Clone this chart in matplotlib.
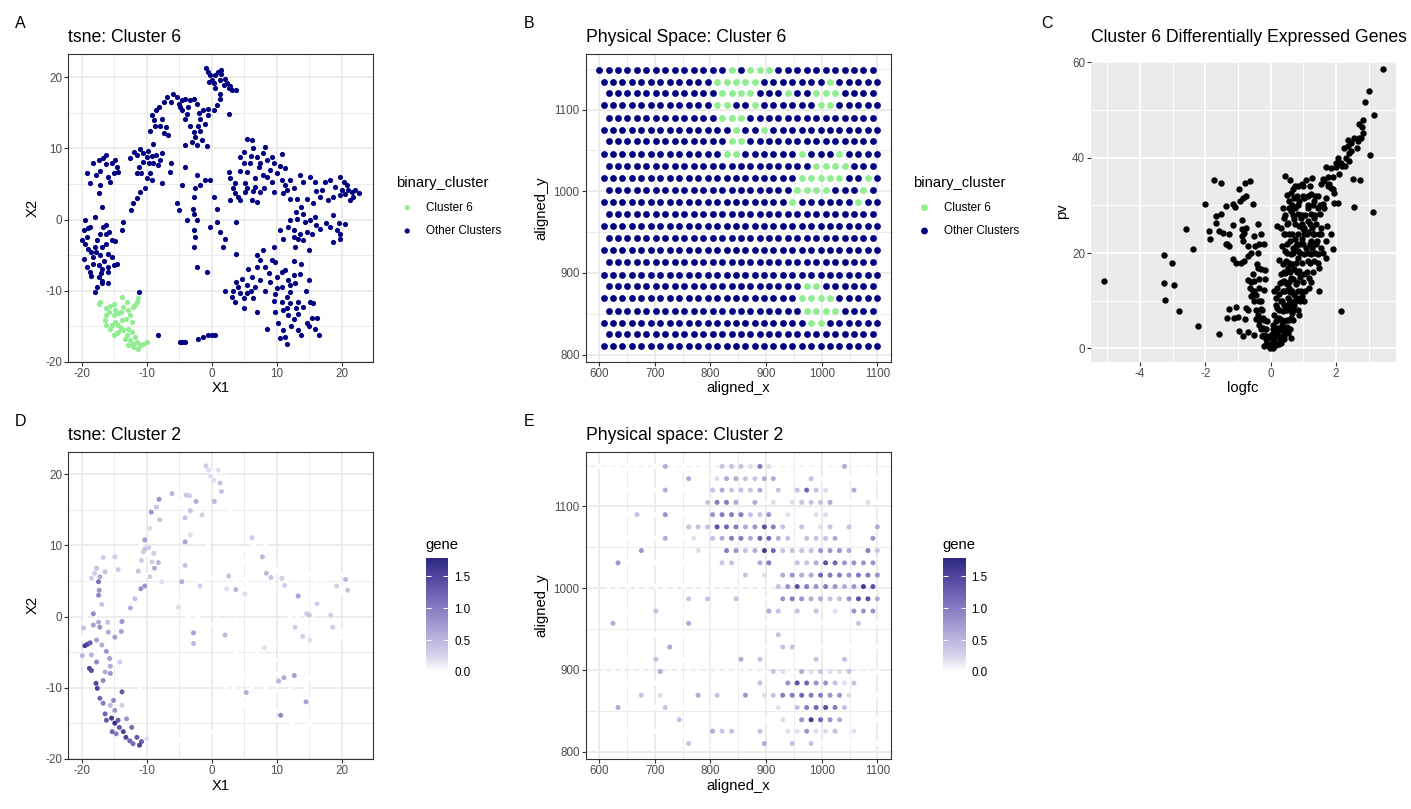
import numpy as np
import matplotlib
matplotlib.use("Agg")
from matplotlib import pyplot as plt
from matplotlib.colors import LinearSegmentedColormap, Normalize
from matplotlib.cm import ScalarMappable

plt.rcParams['font.family'] = ['Liberation Sans', 'DejaVu Sans']
plt.rcParams['axes.unicode_minus'] = False

# ---------------- tsne coordinates (panels A and D) ----------------
other_x = [-0.9, -0.5, -0.3, 0.0, -0.4, 0.3, 0.5, 1.0, 1.4, 1.5, 1.3, 1.9, 2.3, 2.6, 3.1, 3.8, 2.8, 1.3, 1.3, 0.8, 2.6, 0.3, -0.5,
           -5.9, -5.4, -4.6, -4.1, -3.3, -2.8, -2.3, -6.9, -7.4, -8.1, -8.5, -9.2, -7.7, -8.0, -8.7, -9.5, -7.4, -6.7,
           -4.6, -4.1, -3.3, -2.8, -2.05, -1.8, -1.3, -1.5, -2.3, -4.1, -0.8, -0.5, -1.0, -4.9, -3.8, -2.6, -9.0,
           -11.0, -10.5, -10.0, -9.2, -8.5, -7.7, -10.5, -9.7, -9.0, -8.2, -11.5, -10.8, -10.0, -9.2, -11.5, -12.6,
           -6.2, -6.4, -7.7, -10.3, -11.0, -11.5, -12.1, -12.4, -13.6, -13.8,
           -4.1, -2.3, -1.8, -2.6, -2.8, -4.6, -5.4, -5.1, -2.9, -2.8, -2.3, -3.8, -2.8, -2.6, -2.8, -1.0, -0.3, 0.8,
           0.8, -0.3, 1.3, 2.05, 1.8, 3.8, 3.8, -2.3, -0.8,
           -19.2, -18.7, -18.2, -17.4, -17.2, -16.7, -16.2, -16.2, -15.4, -14.9, -14.6, -15.1, -14.4, -15.6, -17.2,
           -17.4, -16.9, -17.9, -19.7, -20.0, -19.2, -18.7, -17.7, -17.2, -16.7, -16.2, -16.9, -16.2, -15.4, -14.9,
           -16.0, -17.2, -18.2, -19.0, -19.7, -19.2, -18.2, -17.4, -18.7, -16.9, -15.9, -15.1, -14.6, -15.9, -17.4,
           -16.9, -17.7, -17.9, -15.9, -16.9, -15.4, -19.5, -18.0, -16.5, -18.5, -17.8, -16.0, -19.0, -17.0,
           5.4, 6.2, 6.4, 8.2, 7.9, 9.2, 10.8, 4.4, 4.9, 5.9, 6.9, 7.2, 8.5, 9.5, 10.5, 11.3, 4.4, 5.4, 7.9, 8.5,
           6.7, 2.6, 2.8, 3.6, 5.1, 6.7, 9.2, 10.8, 11.3, 0.3, 2.8, 3.6, 4.1, 4.4, 5.1, 6.2, 6.9, 6.4, 7.4, 9.5, 11.0,
           13.6, 15.1, 15.9, 14.1, 12.6, 11.5, 12.1, 13.1, 14.6, 13.8, 15.6, 16.7, 17.4, 18.2, 19.0, 19.7, 20.3,
           20.8, 21.0, 21.5, 22.1, 22.7, 20.5, 21.3, 18.7, 17.9, 19.7, 18.7, 20.5, 18.2, 19.2, 19.7, 19.7, 18.7,
           16.7, 15.9, 15.1, 14.4, 13.1, 12.1, 10.5, 12.6, 13.6, 14.6, 15.4, 12.6, 13.3, 14.1, 12.8, 14.9, 11.0, 11.8,
           7.9, 9.5, 7.4, 9.2, 8.2, 5.6, 6.9, 6.2, 4.6, 3.8, 5.4, 6.7, 3.3, 2.05, 3.1, 4.4, 5.4, 3.6, 4.9, 6.9,
           6.4, 8.2, 9.0, 10.0, 10.8, 11.3, 10.0, 10.8, 12.1, 12.8, 12.6, 12.6, 13.8, 13.6, 14.9, 9.5, 10.8, 11.5,
           12.1, 13.3, 14.1, 15.1, 15.6, 9.7, 11.0, 11.8, 12.6, 13.3, 14.6, 15.4, 16.2, 15.9, 13.3, 13.8, 16.5,
           11.0, 11.3, 11.5, 10.5, 8.5,
           -8.2, -11.2, -4.9, -4.5, -4.1, -2.05, -1.3, -0.5, 0.0, 0.5,
           4.0, 5.0, 6.0, 7.5, 8.8, 9.8, 11.8, 12.0, 13.0, 14.5, 15.0, 12.2, 10.2, 11.5, 7.0, 9.8,
           5.0, 6.0, 7.5, 9.0, 10.0, 5.5, 8.0, 3.2, 12.0, 13.0, 14.0, 16.0, 17.5, 19.5, 21.8, 20.0, 17.0, 16.0,
           -6.3, -5.0, -3.6, -2.0, -8.8, -7.0, -1.8, -3.0, 0.5, 2.0,
           -9.8, -11.2, -9.5, -8.0, -12.0,
           -19.5, -18.5, -16.2, -17.8, -15.8]
other_y = [21.3, 20.8, 20.3, 19.7, 19.4, 19.2, 18.5, 20.8, 21.0, 20.5, 19.6, 18.9, 19.2, 18.5, 18.3, 18.3, 18.8, 17.7, 17.0, 16.1, 14.8, 15.4, 15.6,
           17.7, 17.3, 16.8, 17.0, 16.8, 17.0, 16.3, 17.3, 16.6, 15.9, 15.4, 14.7, 14.2, 13.1, 13.1, 12.5, 12.2, 11.9,
           15.4, 14.2, 13.1, 12.3, 13.1, 14.2, 15.4, 11.2, 10.5, 10.5, 10.3, 14.7, 13.5, 15.9, 14.9, 11.6, 10.7,
           9.9, 9.3, 8.8, 8.9, 9.1, 9.4, 8.1, 7.9, 7.9, 7.7, 6.5, 6.6, 5.8, 5.5, 9.1, 8.6,
           7.9, 6.7, 5.1, 4.4, 3.9, 3.0, 2.3, 1.3, -0.3, -1.5,
           7.4, 6.2, 4.8, 4.4, 3.2, 4.8, 2.3, 1.3, 1.5, 0.8, -0.1, -0.1, -1.5, -2.4, -3.8, 5.5, 5.5, 1.5,
           -0.3, -1.0, -1.7, -2.7, -3.8, -4.8, -0.3, -6.7, -7.4,
           6.5, 5.1, 7.9, 8.4, 6.9, 8.6, 9.1, 7.8, 7.9, 8.4, 7.4, 6.5, 6.7, 5.3, 4.8,
           3.7, 1.8, 0.4, -1.5, -2.9, -2.4, -1.0, -2.9, -2.0, -1.0, -0.7, -3.8, -3.4, -2.9, -3.0,
           -4.8, -5.0, -5.3, -4.1, -5.5, -6.7, -6.2, -6.4, -7.4, -6.9, -6.7, -6.4, -6.2, -7.4, -8.1,
           -9.0, -9.5, -10.2, -8.9, -8.7, -5.3, -3.5, -3.8, -5.8, -4.5, 6.2, 6.0, -1.2, -7.5,
           11.4, 11.2, 10.0, 10.2, 9.3, 8.8, 9.2, 8.8, 7.9, 7.9, 8.8, 7.4, 8.4, 7.9, 7.6, 7.2, 6.9, 6.7, 6.2, 6.0,
           5.8, 6.7, 5.8, 5.1, 5.1, 4.6, 5.3, 5.5, 4.8, 3.2, 2.8, 3.7, 3.2, 2.7, 3.9, 2.7, 2.5, 4.0, 3.9, 3.9, 3.7,
           6.2, 6.0, 5.3, 5.3, 4.4, 4.1, 2.9, 2.9, 2.9, 1.8, 2.3, 3.2, 5.3, 5.5, 4.6, 6.0, 5.3,
           4.8, 4.1, 3.9, 4.1, 3.8, 3.6, 2.7, 3.2, 2.7, 3.4, 0.6, -0.6, -1.0, -1.5, -2.0, -2.7, -3.1,
           -1.3, 0.4, -0.1, -0.3, 0.1, -0.1, -1.5, -1.5, -2.0, -1.7, -2.0, -2.4, -2.7, -2.9, -3.8, -4.3, -2.7, -1.0,
           -4.3, -3.8, -5.7, -5.7, -6.7, -6.9, -6.7, -8.1, -8.3, -8.8, -9.2, -9.5, -10.0, -10.0, -10.9, -10.4, -10.4, -11.6, -12.5, -13.0,
           -11.1, -10.0, -8.8, -8.1, -7.4, -7.1, -9.7, -9.5, -9.2, -9.0, -7.8, -5.9, -6.2, -7.6, -8.5, -11.4, -11.6, -10.9,
           -11.8, -11.6, -12.3, -11.6, -11.8, -13.0, -12.8, -13.5, -14.0, -13.3, -14.5, -13.8, -13.8, -15.4, -15.6, -16.3, -16.3,
           -15.6, -16.5, -17.5, -16.7, -15.4,
           -16.3, -10.2, -17.3, -17.3, -17.2, -16.8, -16.5, -16.3, -16.3, -16.2,
           -9.5, -11.0, -10.0, -8.5, -7.5, -10.5, -8.5, -10.2, -12.5, -10.0, -15.0, -15.0, -14.5, -12.5, -5.0, -6.0,
           9.5, 9.0, 8.0, 7.0, 6.5, 4.5, 4.5, 4.5, 5.5, 1.0, 0.8, -0.8, -0.5, -0.5, 3.2, 4.2, 4.2, 4.0,
           16.5, 16.2, 15.8, 15.0, 14.0, 13.0, 12.5, 10.9, 20.3, 19.8,
           9.6, 7.4, 6.6, 8.4, 9.5,
           0.0, -8.0, -2.0, -4.6, -1.8]

c6_x = [-17.2, -17.4, -16.2, -15.6, -15.1, -14.9, -16.2, -15.1, -14.4, -13.8,
        -13.1, -13.6, -12.8, -12.1, -11.5, -11.3, -16.4, -16.2, -15.6, -14.9,
        -14.4, -13.8, -15.1, -14.4, -13.6, -12.8, -12.3, -13.3, -12.6, -12.1,
        -11.5, -11.0, -11.3, -12.1, -10.5, -9.9, -12.3,
        -14.0, -13.2, -15.8, -14.6, -13.0, -11.8, -12.9, -11.9, -15.3, -13.9, -12.5, -11.8]
c6_y = [-11.6, -11.9, -12.5, -12.1, -11.9, -12.8, -13.5, -13.5, -13.2, -10.9,
        -11.6, -12.3, -12.8, -12.3, -11.6, -11.1, -14.2, -14.9, -15.4, -14.4,
        -14.9, -14.2, -16.3, -15.8, -15.6, -15.4, -15.8, -16.8, -17.0, -17.5,
        -17.2, -17.7, -18.2, -17.9, -17.5, -17.2, -14.4,
        -13.0, -14.0, -13.0, -16.0, -16.2, -16.6, -17.6, -18.0, -14.8, -15.2, -13.5, -12.0]

# tsne points with visible cluster-2 gene expression (panel D)
gene_x = [-19.5, -19.1, -18.7, -18.8, -18.5, -17.8, -17.6, -17.2, -16.7, -16.4,
          -16.2, -15.4, -14.9, -14.4, -15.3, -14.7, -14.2, -13.6, -13.2, -12.6,
          -12.1, -11.5, -11.1, -10.8, -12.3, -13.1, -13.8, -15.1, -14.9, -15.6,
          -13.8, -15.6, -16.7, -16.4, -17.7, -18.5, -17.7, -16.9, -16.2, -15.7,
          -15.9, -14.9, -17.2, -18.2, -19.7, -19.9, -17.4, -16.0, -18.2, -16.9,
          -17.4, -17.3, -17.4, -17.2, -18.5, -18.0, -17.7, -16.4, -16.7, -14.9,
          -14.4, -14.1, -15.6, -13.8, -13.9, -12.5, -11.8, -10.9, -10.3, -11.3,
          -10.8, -10.3, -10.5, -9.7, -10.3, -9.2, -8.8, -8.2, -9.5, -8.9,
          -7.7, -9.3, -8.5, -8.1, -8.0, -9.5, -6.1, -3.9, -3.4, -2.4,
          -3.3, -4.1, -3.3, -4.1, -4.1, -4.6, -1.8, -5.1, -2.8, -2.8,
          -1.5, -0.9, -0.5, -0.2, 0.3, 1.0, 1.3, 1.5, 0.4, 2.05,
          2.6, 2.3, 3.7, 5.1, 6.2, 7.8, 8.4, 9.1, 10.8, 11.2,
          13.3, 14.6, 15.0, 16.2, 12.8, 14.0, 15.1, 18.3, 18.6, 19.2,
          20.6, 20.9, 8.1, 10.3, 11.1, 12.7, 14.5, 10.6, 5.3, -10.0]
gene_y = [-4.1, -3.9, -3.7, -7.3, -7.6, -9.4, -10.1, -11.5, -12.2, -13.7,
          -14.6, -14.3, -15.0, -14.6, -16.2, -16.5, -15.6, -16.2, -17.0, -17.5,
          -17.9, -17.0, -18.1, -17.6, -15.6, -14.4, -10.6, -11.8, -13.2, -12.5,
          -12.5, -8.0, -9.0, -7.8, -6.4, -5.4, -3.3, -4.0, -4.9, -5.9,
          -2.2, -2.9, -1.5, -1.2, -1.6, -5.5, -0.8, -0.8, 0.4, 1.7,
          3.0, 3.7, 4.9, 5.6, 5.4, 6.1, 6.8, 6.3, 8.3, 8.4,
          6.6, -6.4, -7.0, -0.7, -2.1, 1.2, 2.5, 3.9, 4.3, 6.4,
          7.9, 9.5, 9.1, 9.7, 10.8, 7.7, 6.8, 7.6, 5.6, 8.9,
          4.9, 14.7, 15.4, 16.5, 13.6, 12.4, 17.3, 17.1, 17.0, 16.2,
          14.9, 13.9, 11.5, 10.5, 7.2, 4.9, 4.3, 1.3, -2.3, -3.8,
          14.3, 21.2, 20.6, 19.8, 19.2, 20.6, 18.8, 17.6, 16.2, -2.6,
          5.7, 3.9, 3.8, 3.2, 11.1, 8.4, 6.1, 5.5, 5.4, 4.4,
          2.9, 0.4, 0.2, 1.8, -1.5, -2.8, -3.3, 0.2, -1.5, 4.3,
          5.2, 3.7, -4.4, -9.1, -8.6, -8.3, -12.0, -13.9, -10.7, -17.2]
gene_val = [1.6, 1.5, 1.3, 1.5, 1.4, 1.5, 1.5, 1.2, 1.0, 1.2,
            1.3, 1.6, 1.7, 1.3, 1.2, 1.0, 1.3, 1.5, 1.5, 1.2,
            1.1, 1.3, 1.5, 1.3, 1.1, 0.8, 1.3, 0.9, 0.8, 0.5,
            0.3, 0.8, 0.9, 0.6, 0.9, 0.5, 0.7, 0.6, 0.8, 0.7,
            0.6, 0.7, 0.8, 0.7, 0.4, 0.5, 0.6, 0.4, 0.9, 0.4,
            0.9, 0.8, 1.1, 0.6, 0.3, 0.3, 0.4, 0.4, 0.3, 0.3,
            0.3, 0.3, 0.6, 0.8, 0.7, 0.6, 0.4, 0.8, 0.8, 0.4,
            0.3, 0.4, 0.3, 0.3, 0.7, 0.3, 0.6, 0.5, 0.3, 0.3,
            0.2, 0.8, 0.4, 0.8, 0.4, 0.2, 0.5, 0.4, 0.3, 0.6,
            0.4, 0.4, 0.2, 0.7, 0.4, 0.6, 0.3, 0.2, 0.7, 0.5,
            0.3, 0.3, 0.2, 0.2, 0.2, 0.2, 0.4, 0.4, 0.5, 0.5,
            0.4, 0.2, 0.5, 0.2, 0.3, 0.5, 0.5, 0.4, 0.3, 0.3,
            0.7, 0.3, 0.4, 0.3, 0.3, 0.3, 0.2, 0.3, 0.3, 0.3,
            0.5, 0.4, 0.2, 0.5, 0.6, 0.7, 0.7, 0.9, 0.6, 0.2]

# ---------------- spot grid (panels B and E) ----------------
row_y = [1149, 1134, 1120, 1105, 1090, 1075, 1061, 1046, 1031, 1016, 1002, 987,
         972, 957, 943, 928, 913, 898, 884, 869, 854, 839, 825, 810]
# odd rows (1st, 3rd, ...) and even rows use shifted columns
cols_odd = [617, 634, 651, 668, 685, 702, 719, 736, 753, 770, 787, 804, 821, 838, 855,
            872, 889, 905, 922, 939, 956, 973, 990, 1007, 1024, 1041, 1058, 1075, 1092]
cols_even = [608, 625, 642, 659, 676, 693, 710, 727, 744, 761, 778, 795, 812, 829, 846,
             863, 880, 897, 913, 930, 947, 964, 981, 998, 1015, 1032, 1049, 1066, 1083, 1100]
extra_spot = (600, 1149)
# column indices of cluster 6 spots, row by row from the top
c6_cols = [[13, 15, 16, 17], [12, 13, 14, 15, 16, 24], [12, 13, 14, 15, 19, 22, 23, 24],
           [12, 13, 16, 23, 24], [12, 13, 14], [14, 17], [13, 14], [13, 14, 21, 25],
           [22, 23, 24, 25], [21, 22, 23, 24, 25, 28], [20, 21, 22, 23, 27], [20, 27],
           [], [], [], [], [], [], [21, 22], [21, 22, 23, 24], [21, 22, 23, 24], [22, 23], [], []]
# cluster 2 gene level per spot (digit d -> d / 5), '.' = 0
gene_rows = [
    "......3.....222151.......3...",
    ".........3..1332233...2.......",
    "......3....232223.2.2621..3..",
    "...........2553.3.1.12223...1.",
    "...2..4....4555224.1..11.....",
    ".........22276534752.2.12.2..3",
    "......3..1.235536632.2223...4",
    "....4.....1..54238622224443.52",
    ".4..........22..35..223764444",
    "...............2.1.34336554554",
    "..................24754543487",
    ".........2.2..2....45433224773",
    ".....2...........32.2.2.1.444",
    ".3.......3.................2..",
    "..................2..........",
    ".......3...........22.........",
    ".....2........3.2.....2..2...",
    "......3...........21.312112...",
    "................2..47644212..",
    "....2.1...3.2..4.1255655441...",
    ".3....2...........1.256752...",
    "........2..........1.48643....",
    "...........322..2..114112.1..",
    ".........2.......3..2.2.......",
]

# ---------------- volcano (panel C) ----------------
logfc = [-5.09, -3.28, -3.02, -3.28, -2.97, -3.23, -2.82, -2.37, -2.58, -2.22, -1.58, -2.01,
         -1.72, -1.52, 2.17, 3.05, 3.15, 3.43, 3.02, 3.18, 2.89, 2.55, 2.52, 2.73,
         -0.96, -0.79, -0.64, -0.76, -0.86, -0.95, -1.16, -1.09, -1.37, -0.53,
         -1.53, -1.67, -1.68, -1.88, -1.85, -1.59, -1.47, -1.28, -1.16, -0.89,
         -0.89, -0.81, -0.76, -0.89, -0.85, -0.70, -0.52, -0.38, -0.30, -0.35,
         -0.48, -0.19, -0.60, -0.70, -0.40, -1.37, -1.26, -1.34, -1.16, -1.06,
         -0.91, -0.81, -0.42, -0.40, -0.30, -0.17, -0.55, -0.70, -0.50, -0.35,
         -0.18, -0.62, -0.50, -0.35, -0.19, -0.60, -0.45, -0.30, -1.27, -1.06,
         -0.76, -0.70, -1.34, -1.11, -0.99, -0.79, -0.96, -0.84, -0.70, -0.50,
         -0.40, -0.30, -0.45, -0.35, -0.24, -0.19, -0.14, -0.09, -0.19, -0.03,
         -0.24, -0.11,
         0.45, 0.59, 0.70, 0.83, 0.95, 1.08, 1.26, 1.59, 1.69, 1.85,
         2.00, 2.10, 1.85, 1.95, 2.05, 1.93, 2.20, 2.30, 2.41, 2.36,
         2.46, 2.68, 2.77, 2.82, 2.71, 2.82, 2.66, 2.41, 2.15, 2.28,
         1.69, 1.54, 1.44, 1.64, 1.52, 1.72, 1.85, 1.69, 1.90, 1.69,
         1.49, 1.49, 1.18, 1.03, 0.88, 0.62, 0.52, 1.59, 1.23, 1.03,
         1.13, 1.34, 1.54, 1.49, 1.23, 1.03, 0.83, 0.62, 0.57, 0.50,
         0.42, 0.37, 0.21, 0.32, 0.42, 0.52, 0.72, 0.88, 0.98, 0.60,
         0.67, 0.78, 0.91, 1.08, 1.23, 1.34, 1.13, 1.03, 0.83, 0.62,
         0.47, 0.37, 0.52, 0.72, 0.88, 1.03, 1.18, 0.62, 0.42, 0.32,
         0.21, 0.37, 0.57, 0.78, 0.93, 0.72, 0.52, 0.32, 0.16, 0.11,
         0.21, 0.37, 0.57, 0.72, 0.62, 0.42, 0.26, 0.11, 0.06, 0.21,
         0.37, 0.21, 0.09, 0.16, 0.06, 0.32, 0.42, 0.01, 0.13, 0.06,
         0.01, 1.64, 1.79, 1.90, 1.34, 1.44, 1.23, 1.13, 1.28, 1.34,
         1.42, 1.54, 1.44, 1.28, 1.03, 0.93, 0.74, 0.87, 0.72, 0.62,
         0.57, 2.26, 2.36, 2.56, 2.71, 2.79, 2.46, 2.07, 2.00,
         0.25, 0.45, 0.35, 0.55, 0.75, 0.95, 1.15, 0.85, 0.65, 0.45,
         0.30, 0.50, 0.70, 0.90, 0.55, 0.40, 0.25, 0.80, 0.95, 0.65,
         0.50, 0.35, 0.20, 0.50, 0.28, 0.15, 0.05, 0.45, 0.18, 0.60,
         -0.15, -0.05, 0.05, 0.15, 0.25, -0.25, -0.10, 0.10, 0.25, 0.40,
         -0.30, -0.15, 0.10, 0.30, 0.45, 0.60, -0.35, -0.20, 0.20, 0.35,
         0.55, 0.70, -0.45, -0.25, 0.25, 0.50, 0.68, 0.85, -0.50, -0.35,
         0.35, 0.60, 0.75, 0.90, -0.55, 0.45, 0.65, 0.85, 1.05, -0.60,
         0.35, 0.55, 0.80, 1.00, 1.25, 0.40, 0.60, 0.82, 1.10, 1.30,
         0.55, 0.78, 0.95, 1.20, 1.45, 0.50, 0.70, 0.90, 1.15, 1.35,
         1.60, 0.50, 0.80, 1.00, 1.20, 1.40, 0.45, 0.65, 0.85, 1.10,
         1.30, 1.55, 0.50, 0.75, 0.95, 1.20, 1.40, 0.45, 0.70, 0.95,
         1.05, 1.35, 0.65, 0.85, 1.15, 1.30, 1.50, 0.80, 1.00, 1.15,
         1.35, 0.75, 1.00, 1.20, 1.75, 1.75, 1.90]
pv = [14.1, 19.5, 17.9, 13.8, 13.2, 10.1, 7.8, 20.8, 25.1, 4.6, 3.0, 30.3,
      35.4, 34.6, 7.8, 40.5, 28.7, 58.7, 53.9, 49.0, 51.7, 29.7, 35.5, 35.4,
      33.5, 34.7, 35.1, 32.0, 31.5, 31.0, 30.3, 29.7, 29.9, 30.2,
      28.1, 27.8, 26.4, 24.6, 22.9, 24.6, 24.3, 24.1, 25.9, 27.0,
      25.0, 24.3, 25.3, 23.6, 22.5, 21.5, 23.6, 26.0, 24.1, 22.0,
      21.5, 22.0, 20.1, 19.4, 20.1, 21.8, 21.5, 22.0, 18.8, 18.0,
      18.0, 18.3, 17.8, 16.9, 16.6, 16.4, 15.7, 14.4, 14.1, 14.5,
      14.5, 12.7, 12.0, 12.7, 12.2, 11.0, 11.3, 9.9, 8.2, 8.7,
      8.5, 8.0, 6.3, 6.3, 6.6, 6.1, 3.6, 2.6, 3.5, 2.8,
      7.1, 8.2, 6.1, 5.0, 4.3, 2.9, 1.9, 0.8, 0.5, 0.1,
      6.4, 5.7,
      36.2, 35.3, 33.4, 34.1, 34.4, 35.3, 35.8, 35.5, 38.0, 37.9,
      38.0, 36.5, 33.7, 32.7, 30.6, 30.6, 38.3, 40.0, 41.0, 42.4,
      43.1, 43.5, 44.2, 45.2, 47.0, 48.0, 42.1, 39.3, 39.0, 38.3,
      31.6, 34.4, 32.0, 29.5, 28.1, 25.7, 23.9, 22.5, 20.8, 18.9,
      12.0, 16.9, 12.7, 9.9, 7.1, 2.2, 3.3, 30.2, 32.3, 31.6,
      29.5, 27.4, 25.3, 23.9, 22.5, 23.9, 28.1, 28.8, 30.9, 32.2,
      27.4, 29.5, 25.7, 25.3, 23.9, 26.4, 27.1, 25.7, 25.0, 22.5,
      21.1, 21.5, 21.8, 21.1, 19.7, 18.3, 18.3, 19.7, 19.0, 19.7,
      18.3, 17.6, 16.9, 16.6, 16.2, 15.5, 14.8, 14.8, 14.1, 15.5,
      12.7, 12.0, 12.7, 13.4, 12.0, 11.3, 10.6, 9.9, 10.6, 12.0,
      8.5, 7.8, 8.5, 9.2, 6.4, 5.7, 6.4, 7.1, 5.0, 4.3,
      3.6, 2.6, 1.5, 0.8, 0.1, 1.2, 1.9, 0.5, 2.9, 4.0,
      2.2, 35.1, 34.4, 33.4, 31.0, 29.5, 28.1, 26.7, 25.3, 23.9,
      22.5, 21.1, 19.7, 21.1, 25.3, 27.4, 29.5, 30.9, 31.6, 32.7,
      29.5, 42.1, 43.8, 44.2, 44.2, 46.4, 41.4, 40.0, 39.0,
      18.5, 20.5, 21.5, 24.0, 23.0, 23.0, 24.5, 20.5, 17.8, 15.8,
      13.8, 13.5, 14.5, 15.0, 9.5, 9.0, 11.5, 10.5, 11.0, 7.5,
      6.0, 4.8, 3.5, 4.5, 2.0, 5.8, 3.0, 8.0, 9.0, 11.8,
      1.0, 1.0, 1.0, 1.0, 1.0, 2.5, 2.5, 2.5, 2.5, 2.5,
      4.0, 4.0, 4.0, 4.0, 4.0, 4.0, 6.0, 6.0, 6.0, 6.0,
      6.0, 6.0, 8.0, 8.0, 8.0, 8.0, 8.0, 8.0, 10.0, 10.0,
      10.0, 10.0, 10.0, 10.0, 12.0, 12.0, 12.0, 12.0, 12.0, 14.0,
      14.0, 14.0, 14.0, 14.0, 14.0, 16.0, 16.0, 16.0, 16.0, 16.0,
      18.0, 18.0, 18.0, 18.0, 18.0, 20.0, 20.0, 20.0, 20.0, 20.0,
      20.0, 22.0, 22.0, 22.0, 22.0, 22.0, 24.0, 24.0, 24.0, 24.0,
      24.0, 24.0, 26.0, 26.0, 26.0, 26.0, 26.0, 28.0, 28.0, 28.0,
      28.0, 28.0, 30.0, 30.0, 30.0, 30.0, 30.0, 32.0, 32.0, 32.0,
      32.0, 34.0, 34.0, 34.0, 34.0, 36.0, 36.0]

NAVY = '#000080'
LGREEN = '#90EE90'
gene_cmap = LinearSegmentedColormap.from_list(
    'gene', [(0, '#ffffff'), (0.15, '#d6d0eb'), (0.4, '#a79dd2'), (0.7, '#6d60b2'), (1, '#2e2883')])
gene_norm = Normalize(0, 1.78)

W, H = 1411, 809
fig = plt.figure(figsize=(W / 100, H / 100), dpi=100)


def box(l, t, r, b):
    return [l / W, 1 - b / H, (r - l) / W, (b - t) / H]


def ftext(x, y, s, **kw):
    kw.setdefault('va', 'center')
    fig.text(x / W, 1 - y / H, s, **kw)


def style(ax, xmaj, xmin, ymaj, ymin, bw=True):
    ax.set_xticks(xmaj)
    ax.set_yticks(ymaj)
    ax.set_xticks(xmin, minor=True)
    ax.set_yticks(ymin, minor=True)
    gc = '#EBEBEB' if bw else 'white'
    ax.set_facecolor('white' if bw else '#EBEBEB')
    ax.grid(which='major', color=gc, lw=1.35)
    ax.grid(which='minor', color=gc, lw=0.7)
    ax.set_axisbelow(True)
    ax.tick_params(which='minor', length=0)
    ax.tick_params(which='major', length=2.6, width=0.8, color='#333333',
                   labelsize=8.4, labelcolor='#4D4D4D', pad=1.8)
    for s in ax.spines.values():
        s.set_visible(bw)
        s.set_color('#333333')
        s.set_linewidth(0.8)


tsne_xt = ([-20, -10, 0, 10, 20], [-15, -5, 5, 15])
tsne_yt = ([-20, -10, 0, 10, 20], [-15, -5, 5, 15])
phys_xt = ([600, 700, 800, 900, 1000, 1100], [650, 750, 850, 950, 1050])
phys_yt = ([800, 900, 1000, 1100], [850, 950, 1050, 1150])

# spots
spot_x, spot_y, spot_c6, spot_gene = [extra_spot[0]], [extra_spot[1]], [False], [0.0]
for i, y in enumerate(row_y):
    cols = cols_odd if i % 2 == 0 else cols_even
    for k, x in enumerate(cols):
        spot_x.append(x)
        spot_y.append(y)
        spot_c6.append(k in c6_cols[i])
        ch = gene_rows[i][k] if k < len(gene_rows[i]) else '.'
        spot_gene.append(int(ch) / 5 if ch.isdigit() else 0.0)
spot_x = np.array(spot_x)
spot_y = np.array(spot_y)
spot_c6 = np.array(spot_c6)
spot_gene = np.array(spot_gene)

# A
axA = fig.add_axes(box(68, 54, 373, 362))
axA.scatter(other_x, other_y, s=14, color=NAVY, lw=0)
axA.scatter(c6_x, c6_y, s=14, color=LGREEN, lw=0)
axA.set_xlim(-22.1, 24.8)
axA.set_ylim(-20.05, 23.3)
style(axA, *tsne_xt, *tsne_yt)

# B
axB = fig.add_axes(box(585.7, 54, 890.7, 362))
axB.scatter(spot_x[~spot_c6], spot_y[~spot_c6], s=24, color=NAVY, lw=0)
axB.scatter(spot_x[spot_c6], spot_y[spot_c6], s=24, color=LGREEN, lw=0)
axB.set_xlim(576, 1124)
axB.set_ylim(791, 1168)
style(axB, *phys_xt, *phys_yt)

# C
axC = fig.add_axes(box(1091, 61, 1395.7, 361.7))
axC.scatter(logfc, pv, s=21, color='black', lw=0)
axC.set_xlim(-5.5, 3.83)
axC.set_ylim(-2.8, 60.3)
style(axC, [-4, -2, 0, 2], [-5, -3, -1, 1, 3], [0, 20, 40, 60], [10, 30, 50], bw=False)

# D
axD = fig.add_axes(box(68, 451.7, 373, 759))
axD.scatter(other_x + c6_x, other_y + c6_y, s=13, color='white', lw=0)
axD.scatter(gene_x, gene_y, c=gene_val, cmap=gene_cmap, norm=gene_norm, s=13, lw=0)
axD.set_xlim(-22.1, 24.8)
axD.set_ylim(-20.05, 23.2)
style(axD, *tsne_xt, *tsne_yt)

# E
axE = fig.add_axes(box(585.7, 451.7, 890.7, 759))
axE.scatter(spot_x, spot_y, c=spot_gene, cmap=gene_cmap, norm=gene_norm, s=13, lw=0)
axE.set_xlim(576, 1124)
axE.set_ylim(791, 1167)
style(axE, *phys_xt, *phys_yt)

# titles, axis titles, panel tags
for x, y, s in [(68, 38, 'tsne: Cluster 6'), (585.7, 38, 'Physical Space: Cluster 6'),
                (1091, 38, 'Cluster 6 Differentially Expressed Genes'),
                (68, 435, 'tsne: Cluster 2'), (585.7, 435, 'Physical space: Cluster 2')]:
    ftext(x, y, s, fontsize=12.7, ha='left')
for x, y, s in [(20.7, 24, 'A'), (529, 24, 'B'), (1047, 24, 'C'), (20.7, 421, 'D'), (529, 421, 'E')]:
    ftext(x, y, s, fontsize=11.5, ha='center')
for x, y, s in [(220.5, 388, 'X1'), (738, 388, 'aligned_x'), (1243, 388, 'logfc'),
                (220.5, 786, 'X1'), (738, 786, 'aligned_x')]:
    ftext(x, y, s, fontsize=10.6, ha='center')
for x, y, s in [(33, 208, 'X2'), (541.7, 208, 'aligned_y'), (1061.7, 211, 'pv'),
                (33, 605, 'X2'), (541.7, 605, 'aligned_y')]:
    ftext(x, y, s, fontsize=10.6, ha='center', rotation=90)

# legends
overlay = fig.add_axes([0, 0, 1, 1])
overlay.set_xlim(0, W)
overlay.set_ylim(H, 0)
overlay.axis('off')
for lx, sz in [(395.7, 14), (913, 24)]:
    ftext(lx, 183, 'binary_cluster', fontsize=10.6, ha='left')
    overlay.scatter([lx + 11.5, lx + 11.5], [207.7, 231], s=sz, color=[LGREEN, NAVY], lw=0)
    ftext(lx + 30.5, 207.7, 'Cluster 6', fontsize=8.4, ha='left')
    ftext(lx + 30.5, 231, 'Other Clusters', fontsize=8.4, ha='left')

for lx in [425.7, 942.7]:
    ftext(lx, 545, 'gene', fontsize=10.6, ha='left')
    cax = fig.add_axes(box(lx, 558.3, lx + 22.8, 672))
    cb = fig.colorbar(ScalarMappable(norm=gene_norm, cmap=gene_cmap), cax=cax)
    cb.outline.set_visible(False)
    cb.set_ticks([0, 0.5, 1.0, 1.5])
    cb.set_ticklabels(['0.0', '0.5', '1.0', '1.5'])
    cax.tick_params(direction='in', length=3.3, width=0.7, color='white',
                    left=True, right=True, labelsize=8.4, labelcolor='black', pad=4)

fig.savefig('out.png', dpi=100)
